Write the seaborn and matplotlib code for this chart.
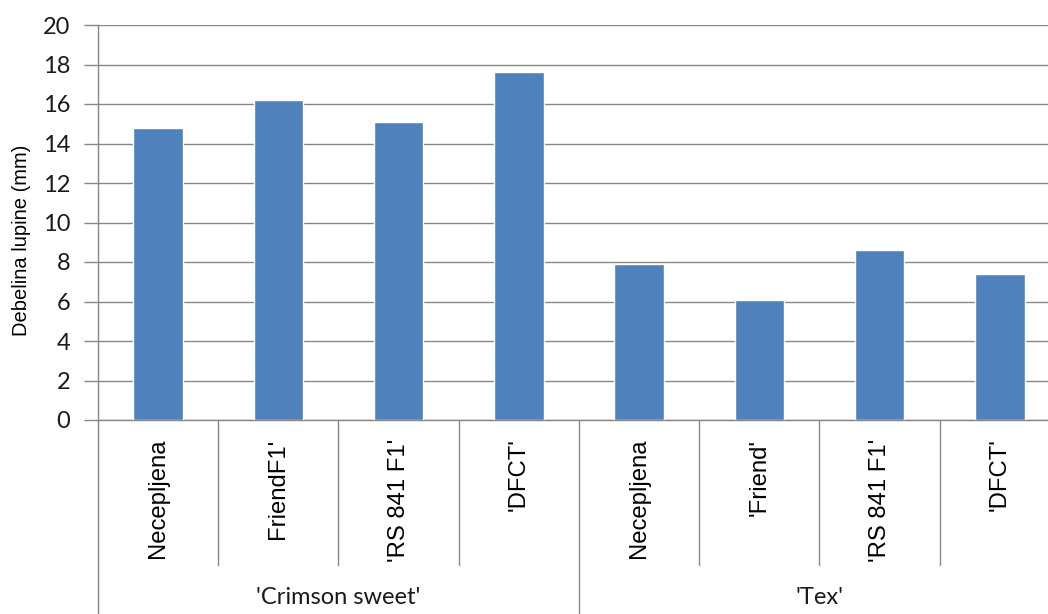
import matplotlib
matplotlib.use("Agg")
import matplotlib.pyplot as plt
import matplotlib.transforms as mtransforms
import pandas as pd
import seaborn as sns

# Rind thickness by cultivar and rootstock
groups = ["'Crimson sweet'", "'Crimson sweet'", "'Crimson sweet'", "'Crimson sweet'",
          "'Tex'", "'Tex'", "'Tex'", "'Tex'"]
treatments = ["Necepljena", "FriendF1'", "'RS 841 F1'", "'DFCT'",
              "Necepljena", "'Friend'", "'RS 841 F1'", "'DFCT'"]
values = [14.8, 16.2, 15.1, 17.6, 7.9, 6.1, 8.6, 7.4]
group_names = ["'Crimson sweet'", "'Tex'"]
y_ticks = [0, 2, 4, 6, 8, 10, 12, 14, 16, 18, 20]

df = pd.DataFrame({"group": groups, "treatment": treatments, "value": values})
df["key"] = df["group"] + "|" + df["treatment"]

sns.set_theme(style="white")
plt.rcParams["font.family"] = ["Liberation Sans", "DejaVu Sans"]

W, H = 1048, 614
fig = plt.figure(figsize=(W / 100, H / 100), dpi=100)
ax = fig.add_axes([98 / W, 194 / H, 962 / W, 395 / H])

grid_col = "#878787"
bar_col = "#4F81BD"

sns.barplot(data=df, x="key", y="value", color=bar_col, width=0.41,
            saturation=1, ax=ax, zorder=3)

ax.set_xlim(-0.5, len(values) - 0.5)
ax.set_ylim(0, 20)
ax.set_yticks(y_ticks)
ax.set_yticklabels([str(t) for t in y_ticks], fontfamily="Lato", fontsize=17,
                   color="#1a1a1a")
ax.yaxis.grid(True, color=grid_col, linewidth=1.0, zorder=0)
ax.set_axisbelow(True)
ax.tick_params(axis="y", length=10, width=1, color=grid_col, pad=10, left=True)
ax.tick_params(axis="x", bottom=False, labelbottom=False)
ax.set_xlabel("")
ax.set_ylabel("")

for side in ("top", "right"):
    ax.spines[side].set_visible(False)
for side in ("left", "bottom"):
    ax.spines[side].set_color(grid_col)
    ax.spines[side].set_linewidth(1.0)

trans = mtransforms.blended_transform_factory(ax.transData, ax.transAxes)

# Separators of the two-level category axis
n = len(values)
for i in range(1, n):
    if i % 4 == 0:
        continue
    ax.plot([i - 0.5, i - 0.5], [0, -0.367], transform=trans, color=grid_col,
            linewidth=1.0, clip_on=False)
for i in (0, 4, 8):
    ax.plot([i - 0.5, i - 0.5], [0, -0.5], transform=trans, color=grid_col,
            linewidth=1.0, clip_on=False)

# Treatment labels, rotated
for i, t in enumerate(treatments):
    ax.text(i, -0.047, t, transform=trans, rotation=90, ha="center", va="top",
            fontsize=17.2, color="black")

# Cultivar labels
for g_i, g in enumerate(group_names):
    ax.text(g_i * 4 + 1.5, -0.45, g, transform=trans, ha="center", va="center",
            fontfamily="Lato", fontsize=17, color="#1a1a1a")

fig.text(22 / W, 1 - 240 / H, "Debelina lupine (mm)", rotation=90,
         ha="center", va="center", fontsize=14.5, color="black")

fig.savefig("out.png", dpi=100, facecolor="white")
